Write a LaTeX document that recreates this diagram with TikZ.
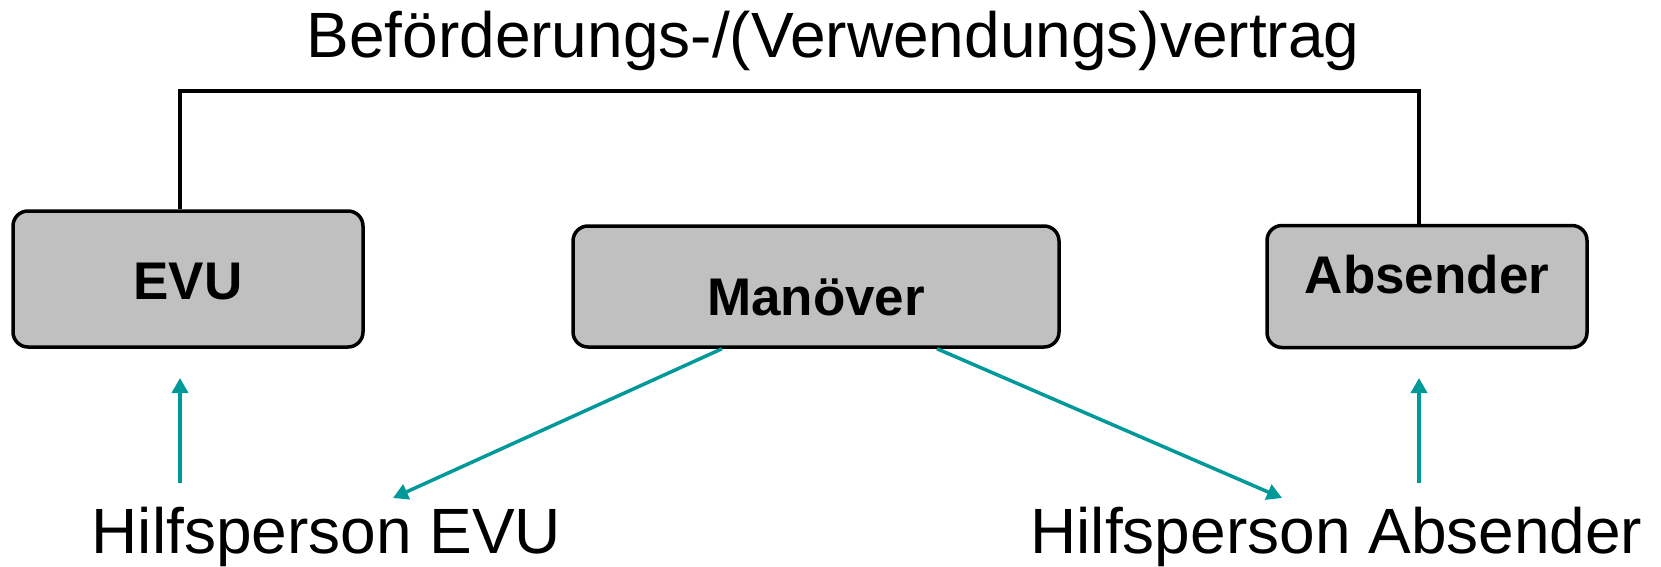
\documentclass[tikz,border=0pt]{standalone}
\usepackage{fontspec}
\setmainfont{Liberation Sans}
\usetikzlibrary{arrows.meta}
\definecolor{boxgray}{RGB}{192,192,192}
\definecolor{teal}{RGB}{0,153,153}
\begin{document}
\begin{tikzpicture}[x=1pt,y=-1pt,
        box/.style={draw=black, fill=boxgray, line width=3.5pt, rounded corners=15pt, font=\fontsize{53}{60}\selectfont\bfseries, inner sep=0pt},
        big/.style={font=\fontsize{64}{76}\selectfont, inner sep=0pt, anchor=base},
        link/.style={draw=black, line width=3.5pt},
        arr/.style={teal, line width=3.5pt, -{Triangle[length=15pt,width=16pt]}}]
        \useasboundingbox (0,0) rectangle (1661,567);
        \node[box, minimum width=350pt, minimum height=136pt, text height=41pt, text depth=0pt] (evu) at (188,279) {EVU};
        \node[box, minimum width=486pt, minimum height=121pt, text height=57pt, text depth=0pt] (man) at (816,286.5) {Manöver};
        \node[box, minimum width=320pt, minimum height=122pt, text height=30pt, text depth=16pt] (abs) at (1427,286.5) {Absender};
        \node[big] (vertrag) at (833,58) {Beförderungs-/(Verwendungs)vertrag};
        \node[big] (hevu) at (326.5,553) {Hilfsperson EVU};
        \node[big] (habs) at (1336.5,553) {Hilfsperson Absender};
        \coordinate (top) at (0,91);
        \coordinate (evuA) at (180,378);
        \coordinate (evuB) at (180,483);
        \coordinate (absA) at (1419,378);
        \coordinate (absB) at (1419,483);
        \coordinate (hevuT) at (393,498);
        \coordinate (habsT) at (1282,498);
        \draw[link] (evuA |- evu.north) -- (evuA |- top) -- (absA |- top) -- (absA |- abs.north);
        \draw[arr] (evuB) -- (evuA);
        \draw[arr] (absB) -- (absA);
        \draw[arr] ([xshift=-94pt]man.south) -- (hevuT);
        \draw[arr] ([xshift=121pt]man.south) -- (habsT);
\end{tikzpicture}
\end{document}
